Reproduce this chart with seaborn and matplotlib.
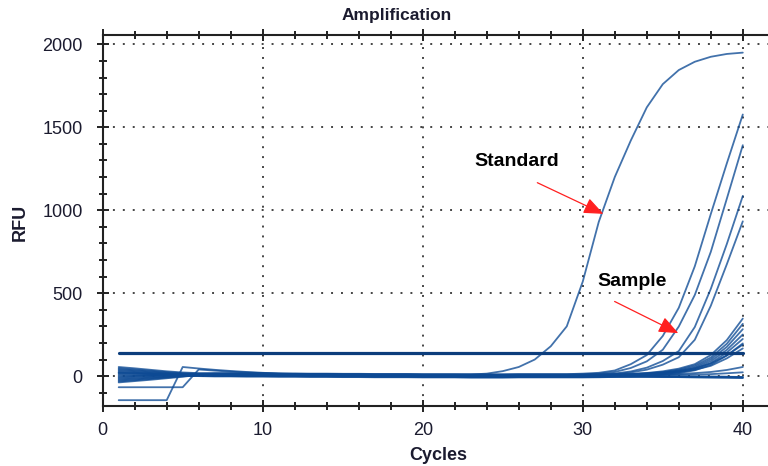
import numpy as np
import pandas as pd
import seaborn as sns
from matplotlib import pyplot as plt
from matplotlib.ticker import MultipleLocator

# Cycle numbers
cycles = list(range(1, 41))

# Standard well (full run)
standard = [20, 18, 15, 12, 10, 8, 7, 6, 5, 5, 4, 4, 3, 3, 3, 2, 2, 3, 3, 4,
            5, 7, 10, 15, 30, 55, 100, 180, 300, 570, 930, 1200, 1420, 1620, 1760, 1845, 1895, 1925, 1942, 1950]

# Two wells with an odd start
well_e = [-67, -67, -67, -67, -67, 40, 33, 27, 22, 18, 14, 11, 9, 8, 7, 6, 5, 5, 4, 4,
          3, 3, 3, 2, 2, 2, 1, 1, 1, 0, 0, 0, -1, -1, -2, -2, -3, -3, -4, -5]
well_f = [-145, -145, -145, -145, 55, 46, 38, 31, 25, 20, 16, 13, 11, 9, 8, 7, 6, 5, 5, 4,
          4, 3, 3, 3, 2, 2, 2, 1, 1, 1, 0, 0, 0, -1, -1, -2, -2, -3, -4, -6]

# Sample wells: cycles 1-7
early_rows = [[55, 47, 38, 29, 22, 18, 18],
              [-38, -30, -22, -13, -4, 8, 15],
              [48, 40, 32, 24, 17, 13, 12],
              [-32, -25, -17, -9, -1, 6, 10],
              [42, 35, 28, 20, 14, 10, 8],
              [-26, -20, -13, -6, 1, 5, 6],
              [36, 30, 23, 17, 11, 7, 4],
              [-20, -15, -9, -3, 3, 3, 2],
              [30, 25, 19, 13, 8, 3, 0],
              [-14, -10, -5, 0, 4, 0, -2],
              [24, 20, 16, 12, 14, 15, 16],
              [-8, -4, 0, 4, 8, 12, 13],
              [18, 15, 12, 10, 11, 11, 11],
              [-2, 1, 4, 6, 8, 9, 9],
              [12, 10, 8, 7, 6, 5, 5],
              [5, 4, 4, 4, 4, 3, 3]]

# Sample wells: baseline level
offsets = [12, 9, 6, 4, 2, 0, -2, -4, -6, -8, 10, 7, 5, 3, -1, -3]

# Shared baseline, cycles 8-29
mid_base = [6, 5, 5, 4, 4, 3, 3, 2, 2, 1, 1, 1, 0, 0, 0, -1, -1, -1, 0, 0, 0, 0]

# Sample wells: cycles 30-40
late_rows = [[3, 8, 22, 60, 115, 230, 400, 650, 965, 1270, 1565],
             [2, 6, 16, 40, 80, 150, 290, 480, 740, 1060, 1383],
             [1, 4, 10, 22, 45, 85, 145, 290, 520, 790, 1080],
             [1, 3, 8, 18, 35, 65, 110, 215, 420, 670, 929],
             [0, 3, 6, 10, 17, 27, 43, 70, 125, 215, 345],
             [0, 2, 5, 9, 15, 24, 39, 64, 112, 195, 315],
             [0, 2, 4, 8, 14, 22, 36, 58, 103, 178, 285],
             [0, 2, 4, 7, 12, 20, 32, 53, 94, 162, 255],
             [0, 1, 3, 6, 11, 18, 29, 48, 85, 148, 230],
             [0, 1, 3, 5, 10, 16, 26, 43, 76, 132, 205],
             [0, 1, 2, 4, 8, 13, 22, 37, 66, 115, 180],
             [0, 1, 2, 4, 7, 11, 18, 31, 55, 100, 160],
             [0, 0, 1, 2, 3, 5, 8, 13, 20, 32, 50],
             [0, 0, 0, 1, 1, 2, 4, 6, 9, 14, 20],
             [0, 0, -1, -2, -3, -4, -5, -6, -7, -8, -10],
             [0, -1, -1, -2, -2, -3, -3, -4, -5, -6, -8]]

threshold = 140

# Build long-form table
records = []


def add_well(name, values):
    for c, v in zip(cycles, values):
        records.append({'well': name, 'cycle': c, 'rfu': v})


add_well('standard', standard)
add_well('e', well_e)
add_well('f', well_f)
for i, (early, off, late) in enumerate(zip(early_rows, offsets, late_rows)):
    add_well('s' + str(i), early + [m + off for m in mid_base] + [v + off for v in late])

amp = pd.DataFrame(records)
thr = pd.DataFrame({'cycle': [cycles[0], cycles[-1]], 'rfu': [threshold, threshold]})

sns.set_style('ticks')
plt.rcParams['font.family'] = ['Liberation Sans', 'DejaVu Sans']

navy = '#0c3d7c'
curve = '#0d4a94'
ink = '#1b1b2f'

fig = plt.figure(figsize=(7.68, 4.66), dpi=100)
ax = fig.add_axes([0.1337, 0.1288, 0.896, 0.796])

# Curves
sns.lineplot(data=amp, x='cycle', y='rfu', units='well', estimator=None,
             color=curve, alpha=0.78, linewidth=1.3, legend=False, ax=ax)

# Threshold line
sns.lineplot(data=thr, x='cycle', y='rfu', color=navy, linewidth=2.3, ax=ax)

ax.set_xlim(0, 43)
ax.set_ylim(-180, 2056)

# Ticks
ax.xaxis.set_major_locator(MultipleLocator(10))
ax.xaxis.set_minor_locator(MultipleLocator(2))
ax.yaxis.set_major_locator(MultipleLocator(500))
ax.yaxis.set_minor_locator(MultipleLocator(100))
ax.tick_params(axis='both', which='both', direction='inout', top=True, right=False,
               width=1.4, color='#222222', labelsize=13, labelcolor=ink)
ax.tick_params(which='major', length=9)
ax.tick_params(which='minor', length=5.5)
ax.tick_params(axis='x', which='major', pad=7)
ax.tick_params(axis='y', which='major', pad=10)

# Dotted grid
ax.grid(True, which='major', linestyle=(0, (1, 4.1)), color='#444444', linewidth=1.4)

for side in ['left', 'bottom', 'top']:
    ax.spines[side].set_linewidth(1.5)
    ax.spines[side].set_color('#222222')
ax.spines['right'].set_visible(False)

ax.set_xlabel('')
ax.set_ylabel('')

# Titles
fig.text(0.517, 0.966, 'Amplification', ha='center', va='center', fontsize=12.5, fontweight='bold', color=ink)
fig.text(20 / 768, 1 - 222 / 466, 'RFU', ha='center', va='center', rotation=90, fontsize=13,
         fontweight='bold', color=ink)
fig.text(438 / 768, 1 - 456 / 466, 'Cycles', ha='center', va='center', fontsize=13, fontweight='bold', color=ink)

# Annotations
arrow = dict(arrowstyle='-|>,head_length=0.8,head_width=0.33', color='#ff2020', lw=0.9,
             mutation_scale=15, shrinkA=0, shrinkB=0)
ax.text(25.9, 1293, 'Standard', ha='center', va='center', fontsize=14, fontweight='bold', color='black')
ax.annotate('', xy=(31.29, 978), xytext=(27.16, 1166), arrowprops=arrow)
ax.text(33.1, 570, 'Sample', ha='center', va='center', fontsize=14, fontweight='bold', color='black')
ax.annotate('', xy=(35.97, 259), xytext=(31.99, 450), arrowprops=arrow)

fig.savefig('out.png', dpi=100)
